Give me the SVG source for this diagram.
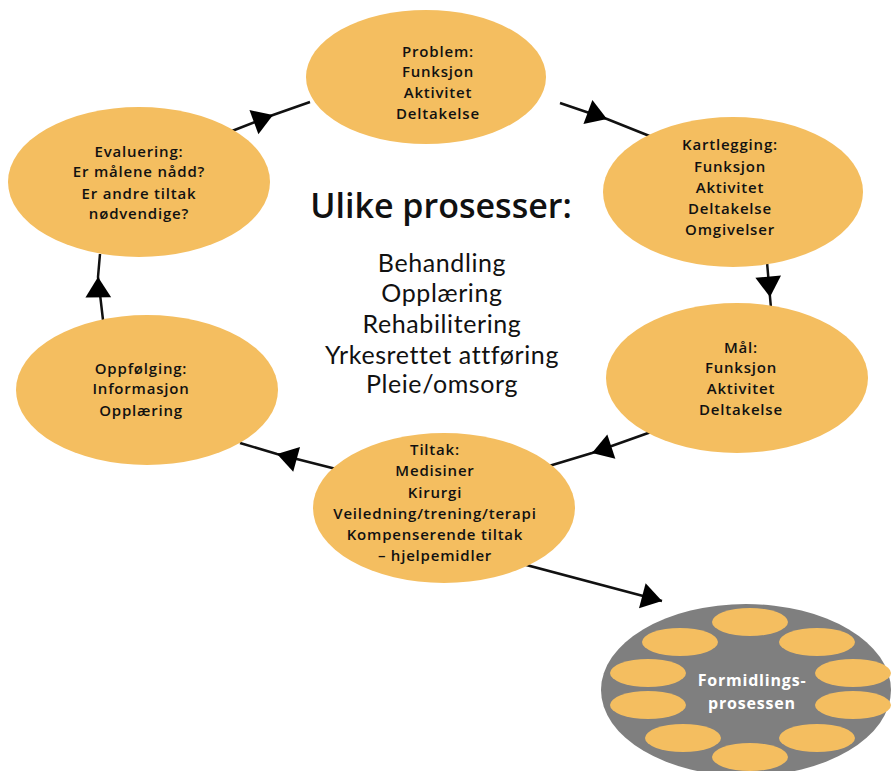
<svg xmlns="http://www.w3.org/2000/svg" width="891" height="771" viewBox="0 0 891 771">
<defs>
<style>
.node{fill:#F4BE60;}
.t{font-family:"Open Sans","DejaVu Sans",sans-serif;font-weight:600;font-size:15px;letter-spacing:0.8px;fill:#111;text-anchor:middle;}
.c{font-family:"Open Sans","DejaVu Sans",sans-serif;fill:#111;text-anchor:middle;}
.l{font-family:Lato,"Open Sans",sans-serif;font-size:25px;letter-spacing:0.6px;fill:#111;text-anchor:middle;}
.ln{fill:none;stroke:#111;stroke-width:2.5;}
.w{font-family:"Open Sans","DejaVu Sans",sans-serif;font-weight:bold;font-size:16px;letter-spacing:0.8px;fill:#fff;text-anchor:middle;}
</style>
<marker id="ah" markerUnits="userSpaceOnUse" markerWidth="30" markerHeight="30" viewBox="-20 -14 22 28" refX="0" refY="0" orient="auto">
<path d="M-19,-12 L0,0 L-19,12 Z" fill="#000"/>
</marker>
</defs>
<rect width="891" height="771" fill="#fff"/>
<g id="connectors">
<path class="ln" d="M232,131 L273,115 L310,102" marker-mid="url(#ah)"/>
<path class="ln" d="M560,103 L607,119 L652,137" marker-mid="url(#ah)"/>
<path class="ln" d="M767,262 L770,297 L771,308" marker-mid="url(#ah)"/>
<path class="ln" d="M651,432 L592,453 L549,466" marker-mid="url(#ah)"/>
<path class="ln" d="M344,471 L277,454 L240,443" marker-mid="url(#ah)"/>
<path class="ln" d="M103,320 L98,277 L100,254" marker-mid="url(#ah)"/>
<path class="ln" d="M500,558 L662,601" marker-end="url(#ah)"/>
</g>
<g id="problem">
<ellipse class="node" cx="426" cy="77" rx="120" ry="67"/>
<text class="t" x="438" y="57">Problem:</text>
<text class="t" x="438" y="77">Funksjon</text>
<text class="t" x="438" y="98">Aktivitet</text>
<text class="t" x="438" y="119">Deltakelse</text>
</g>
<g id="kartlegging">
<ellipse class="node" cx="733" cy="192" rx="130" ry="75"/>
<text class="t" x="730" y="150">Kartlegging:</text>
<text class="t" x="730" y="172">Funksjon</text>
<text class="t" x="730" y="193">Aktivitet</text>
<text class="t" x="730" y="214">Deltakelse</text>
<text class="t" x="730" y="235">Omgivelser</text>
</g>
<g id="maal">
<ellipse class="node" cx="737" cy="378" rx="131" ry="75"/>
<text class="t" x="741" y="353">Mål:</text>
<text class="t" x="741" y="373">Funksjon</text>
<text class="t" x="741" y="394">Aktivitet</text>
<text class="t" x="741" y="415">Deltakelse</text>
</g>
<g id="tiltak">
<ellipse class="node" cx="444" cy="508" rx="131" ry="75"/>
<text class="t" x="435" y="455">Tiltak:</text>
<text class="t" x="435" y="476">Medisiner</text>
<text class="t" x="435" y="498">Kirurgi</text>
<text class="t" x="435" y="519">Veiledning/trening/terapi</text>
<text class="t" x="435" y="540">Kompenserende tiltak</text>
<text class="t" x="435" y="561">– hjelpemidler</text>
</g>
<g id="oppfolging">
<ellipse class="node" cx="147" cy="390" rx="131" ry="75"/>
<text class="t" x="141" y="374">Oppfølging:</text>
<text class="t" x="141" y="394">Informasjon</text>
<text class="t" x="141" y="416">Opplæring</text>
</g>
<g id="evaluering">
<ellipse class="node" cx="139" cy="182" rx="131" ry="75"/>
<text class="t" x="139" y="157">Evaluering:</text>
<text class="t" x="139" y="177">Er målene nådd?</text>
<text class="t" x="139" y="199">Er andre tiltak</text>
<text class="t" x="139" y="219">nødvendige?</text>
</g>
<g id="center">
<text class="c" x="441" y="218" font-size="34" font-weight="600">Ulike prosesser:</text>
<text class="l" x="442" y="272">Behandling</text>
<text class="l" x="442" y="302">Opplæring</text>
<text class="l" x="442" y="333">Rehabilitering</text>
<text class="l" x="442" y="364">Yrkesrettet attføring</text>
<text class="l" x="442" y="393">Pleie/omsorg</text>
</g>
<g id="formidling">
<ellipse cx="746" cy="690" rx="145" ry="86" fill="#7F7F7F"/>
<ellipse class="node" cx="750" cy="622" rx="38" ry="14"/>
<ellipse class="node" cx="680" cy="642" rx="38" ry="14"/>
<ellipse class="node" cx="817" cy="642" rx="38" ry="14"/>
<ellipse class="node" cx="648" cy="673" rx="38" ry="14"/>
<ellipse class="node" cx="853" cy="673" rx="38" ry="14"/>
<ellipse class="node" cx="648" cy="705" rx="38" ry="14"/>
<ellipse class="node" cx="853" cy="705" rx="38" ry="14"/>
<ellipse class="node" cx="683" cy="738" rx="38" ry="14"/>
<ellipse class="node" cx="817" cy="738" rx="38" ry="14"/>
<ellipse class="node" cx="750" cy="757" rx="38" ry="14"/>
<text class="w" x="752" y="686">Formidlings-</text>
<text class="w" x="752" y="709">prosessen</text>
</g>
</svg>
